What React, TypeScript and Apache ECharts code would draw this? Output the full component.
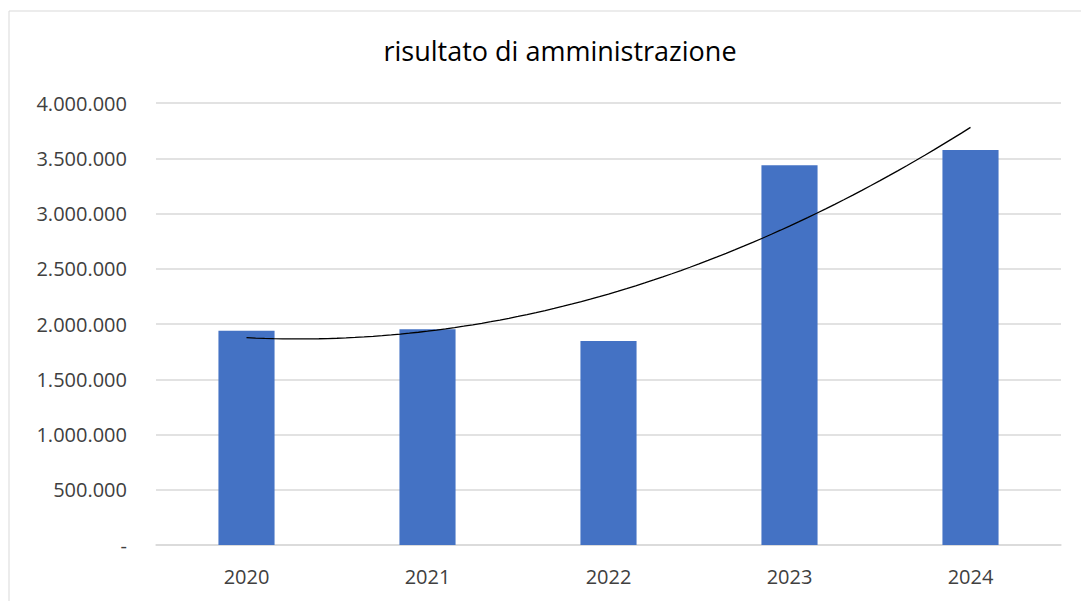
import React, { useEffect, useRef } from "react";
import * as echarts from "echarts";

const categories = ["2020", "2021", "2022", "2023", "2024"];
const values = [1939000, 1952000, 1846000, 3436000, 3575000];
const yTicks = [0, 500000, 1000000, 1500000, 2000000, 2500000, 3000000, 3500000, 4000000];
const title = "risultato di amministrazione";

// Excel-style polynomial (order 2) trendline fitted by least squares to the bar values
function quadFit(ys: number[]) {
  const n = ys.length;
  const xs = ys.map((_, i) => i - (n - 1) / 2);
  let s2 = 0, s4 = 0, sy = 0, sxy = 0, sx2y = 0;
  xs.forEach((x, i) => {
    s2 += x * x; s4 += x ** 4; sy += ys[i]; sxy += x * ys[i]; sx2y += x * x * ys[i];
  });
  const b = sxy / s2;
  const c = (n * sx2y - s2 * sy) / (n * s4 - s2 * s2);
  const a = (sy - c * s2) / n;
  const off = (n - 1) / 2;
  return (x: number) => a + b * (x - off) + c * (x - off) ** 2;
}

function fmt(v: number) {
  if (v === 0) return "-";
  return String(Math.round(v)).replace(/\B(?=(\d{3})+(?!\d))/g, ".");
}

export default function App() {
  const ref = useRef<HTMLDivElement>(null);
  useEffect(() => {
    document.body.style.margin = "0";
    const chart = echarts.init(ref.current!, null, { renderer: "svg" });
    const f = quadFit(values);
    const trend: number[][] = [];
    for (let i = 0; i <= 80; i++) {
      const x = (i / 80) * (values.length - 1);
      trend.push([x, f(x)]);
    }
    const font = "'Open Sans', 'Noto Sans', sans-serif";
    chart.setOption({
      animation: false,
      backgroundColor: "#ffffff",
      title: {
        text: title,
        left: 555,
        textAlign: "center",
        top: 32,
        textStyle: { fontFamily: font, fontSize: 27, fontWeight: "normal", color: "#000000" },
      },
      graphic: [
        {
          type: "rect",
          shape: { x: 9, y: 11, width: 1200, height: 700 },
          style: { fill: "none", stroke: "#d9d9d9", lineWidth: 1 },
          silent: true,
        },
      ],
      grid: { left: 156, right: 20, top: 103, bottom: 56 },
      xAxis: [
        {
          type: "category",
          data: categories,
          axisLine: { show: true, lineStyle: { color: "#d9d9d9", width: 1.5 } },
          axisTick: { show: false },
          axisLabel: { fontFamily: font, fontSize: 20, color: "#404040", margin: 21 },
        },
        {
          type: "value",
          min: -0.5,
          max: values.length - 0.5,
          show: false,
        },
      ],
      yAxis: {
        type: "value",
        min: 0,
        max: 4000000,
        interval: 500000,
        axisLine: { show: false },
        axisTick: { show: false },
        splitLine: { lineStyle: { color: "#d9d9d9", width: 1.5 } },
        axisLabel: {
          fontFamily: font,
          fontSize: 20,
          color: "#404040",
          margin: 29,
          formatter: (v: number) => (yTicks.includes(v) ? fmt(v) : ""),
        },
      },
      series: [
        {
          type: "bar",
          data: values,
          barWidth: "31%",
          itemStyle: { color: "#4472c4" },
          xAxisIndex: 0,
        },
        {
          type: "line",
          xAxisIndex: 1,
          data: trend,
          showSymbol: false,
          lineStyle: { color: "#000000", width: 1.3 },
          z: 5,
        },
      ],
    });
    return () => chart.dispose();
  }, []);
  return <div ref={ref} style={{ width: 1081, height: 601, position: "absolute", left: 0, top: 0 }} />;
}
